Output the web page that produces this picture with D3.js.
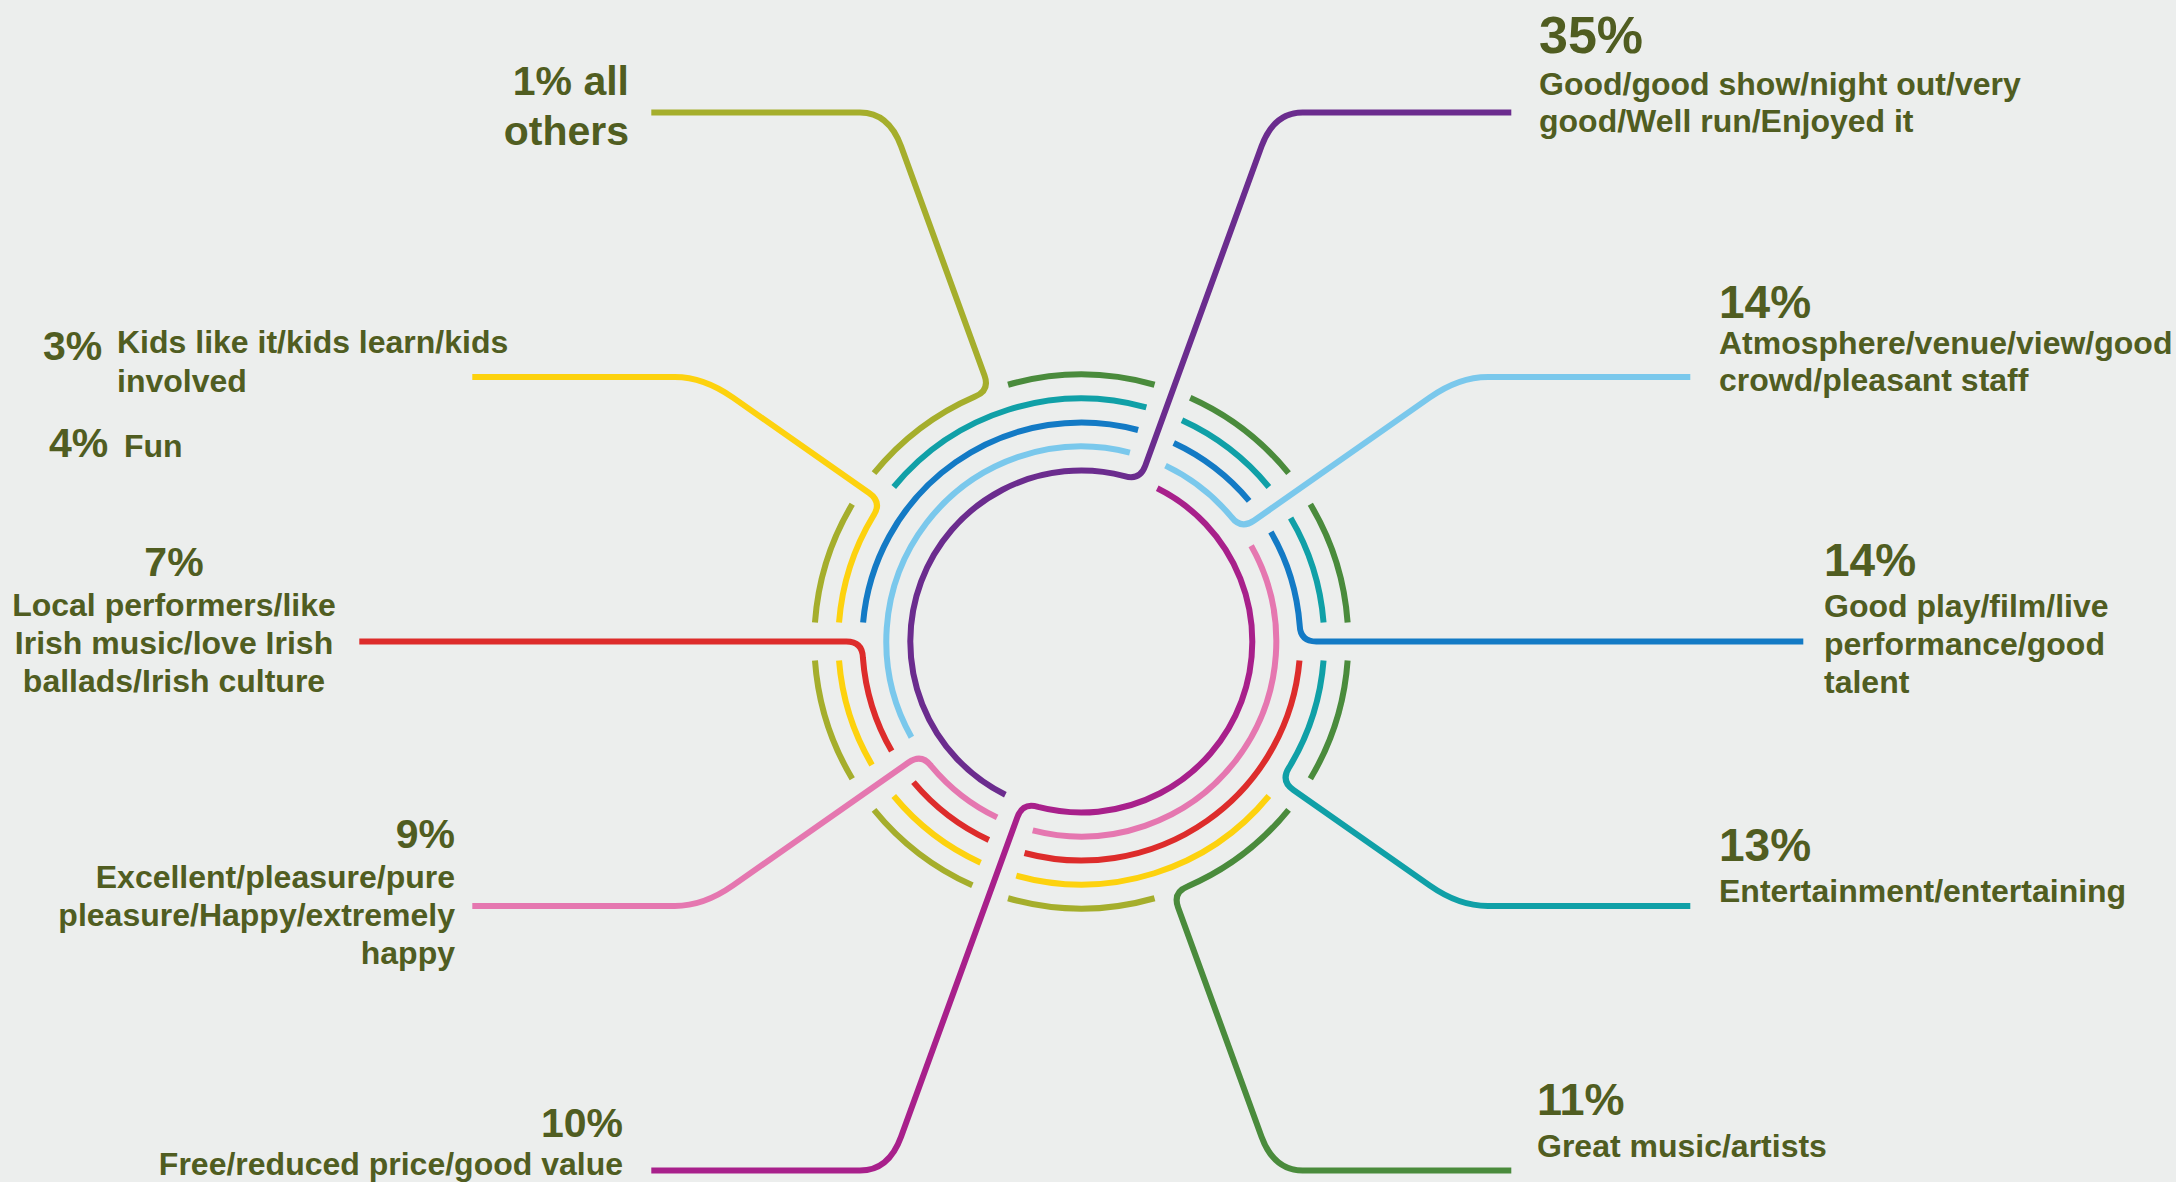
<!DOCTYPE html>
<html>
<head>
<meta charset="utf-8">
<script src="https://cdn.jsdelivr.net/npm/d3@7"></script>
<style>
  html, body { margin: 0; padding: 0; background: #eceeed; }
  svg { display: block; }
  text { font-family: "Liberation Sans", Arial, Helvetica, sans-serif; font-weight: bold; fill: #505d21; }
</style>
</head>
<body>
<svg id="chart" width="2176" height="1182"></svg>
<script>
// ---- data -------------------------------------------------------------
const categories = [
  "Good/good show/night out/very good/Well run/Enjoyed it",
  "Atmosphere/venue/view/good crowd/pleasant staff",
  "Good play/film/live performance/good talent",
  "Entertainment/entertaining",
  "Great music/artists",
  "Free/reduced price/good value",
  "Excellent/pleasure/pure pleasure/Happy/extremely happy",
  "Local performers/like Irish music/love Irish ballads/Irish culture",
  "Kids like it/kids learn/kids involved",
  "Fun",
  "all others"
];
const values = [35, 14, 14, 13, 11, 10, 9, 7, 3, 4, 1];

// label text as it is wrapped on the page
const labelLines = [
  ["Good/good show/night out/very", "good/Well run/Enjoyed it"],
  ["Atmosphere/venue/view/good", "crowd/pleasant staff"],
  ["Good play/film/live", "performance/good", "talent"],
  ["Entertainment/entertaining"],
  ["Great music/artists"],
  ["Free/reduced price/good value"],
  ["Excellent/pleasure/pure", "pleasure/Happy/extremely", "happy"],
  ["Local performers/like", "Irish music/love Irish", "ballads/Irish culture"],
  ["Kids like it/kids learn/kids", "involved"],
  ["Fun"],
  ["all", "others"]
];

// categories that have a line in the wheel, clockwise from the top right
const rightWheel = [0, 1, 2, 3, 4];
const leftWheel = [5, 6, 7, 8, 10];

// ---- styling / layout -------------------------------------------------
const colors = ["#6b2c8e", "#7ac8ec", "#137ac5", "#10a0a7", "#4a8b3c",
                "#a8208b", "#e577b0", "#dd2c2b", "#fdd20e", null, "#a5ae2c"];

const labelPos = [
  { x: 1539, anchor: "start",  pctY: 53,   pctSize: 52, textY: 95,   lh: 37 },
  { x: 1719, anchor: "start",  pctY: 318,  pctSize: 46, textY: 354,  lh: 37 },
  { x: 1824, anchor: "start",  pctY: 576,  pctSize: 46, textY: 617,  lh: 38 },
  { x: 1719, anchor: "start",  pctY: 861,  pctSize: 46, textY: 902,  lh: 38 },
  { x: 1537, anchor: "start",  pctY: 1115, pctSize: 45, textY: 1157, lh: 38 },
  { x: 623,  anchor: "end",    pctY: 1137, pctSize: 41, textY: 1175, lh: 38 },
  { x: 455,  anchor: "end",    pctY: 848,  pctSize: 41, textY: 888,  lh: 38 },
  { x: 174,  anchor: "middle", pctY: 576,  pctSize: 41, textY: 616,  lh: 38 },
  { x: 43,   anchor: "start",  pctY: 360,  pctSize: 41, textX: 117, textY: 353, lh: 39, inline: true },
  { x: 49,   anchor: "start",  pctY: 457,  pctSize: 41, textX: 124, textY: 457, lh: 38, inline: true },
  { x: 629,  anchor: "end",    pctY: 95,   pctSize: 41, textY: 145,  lh: 50, big: true }
];

const W = 2176, H = 1182;
const cx = 1081.3, cy = 641.5;
const lineWidth = 6;
const gapPx = 19;      // clearance where a line crosses a ring
const fillet = 16;     // bend from ring into spoke
const bend = 36;       // bend from spoke into the horizontal run
const reach = [430, 609, 722, 609, 430];   // horizontal run end, per level

// ---- scales ------------------------------------------------------------
const ring = d3.scalePoint().domain(d3.range(5)).range([171, 267]);
const angleRight = d3.scalePoint().domain(d3.range(5)).range([20, 160]);
const angleLeft = d3.scalePoint().domain(d3.range(5)).range([200, 340]);
const level = d3.scalePoint().domain(d3.range(5)).range([112.5, 1170.5]);

const rad = d => d * Math.PI / 180;
const deg = r => r * 180 / Math.PI;
const pt = (r, a) => [cx + r * Math.sin(rad(a)), cy - r * Math.cos(rad(a))];

const spokes = [
  ...rightWheel.map((c, i) => ({ c, angle: angleRight(i), track: i, level: i, side: 1 })),
  ...leftWheel.map((c, j) => ({ c, angle: angleLeft(j), track: j, level: 4 - j, side: -1 }))
];

// break each ring arc where spokes from inner rings pass through it
const segments = [];
spokes.forEach(s => {
  const r = ring(s.track);
  const gd = deg(gapPx / r);
  const lo = s.angle - 180 + gd, hi = s.angle;
  const cuts = spokes.filter(m => m.track < s.track).map(m => {
    let a = m.angle;
    while (a < lo) a += 360;
    while (a >= lo + 360) a -= 360;
    return a;
  }).filter(a => a < hi).sort((a, b) => a - b);
  let start = lo;
  cuts.forEach(a => { segments.push({ s, r, a0: start, a1: a - gd, lead: false }); start = a + gd; });
  segments.push({ s, r, a0: start, a1: hi, lead: true });
});

function segmentPath(d) {
  const p = d3.path();
  const r = d.r, s = d.s;
  const start = pt(r, d.a0);
  p.moveTo(start[0], start[1]);
  if (!d.lead) {
    p.arc(cx, cy, r, rad(d.a0 - 90), rad(d.a1 - 90), false);
    return p.toString();
  }
  const fd = deg(fillet / r);
  p.arc(cx, cy, r, rad(d.a0 - 90), rad(d.a1 - fd - 90), false);
  const c1 = pt(r, s.angle), e1 = pt(r + fillet, s.angle);
  p.quadraticCurveTo(c1[0], c1[1], e1[0], e1[1]);
  const yL = level(s.level);
  const xEnd = cx + s.side * reach[s.level];
  const cosA = Math.cos(rad(s.angle));
  if (Math.abs(cosA) < 1e-6) {
    p.lineTo(xEnd, cy);
  } else {
    const rh = (cy - yL) / cosA;
    const b = pt(rh - bend, s.angle), corner = pt(rh, s.angle);
    p.lineTo(b[0], b[1]);
    p.quadraticCurveTo(corner[0], corner[1], corner[0] + s.side * bend * 0.8, yL);
    p.lineTo(xEnd, yL);
  }
  return p.toString();
}

const svg = d3.select("#chart").attr("viewBox", [0, 0, W, H]);
svg.append("rect").attr("width", W).attr("height", H).attr("fill", "#eceeed");

svg.append("g")
  .attr("fill", "none")
  .attr("stroke-width", lineWidth)
  .attr("stroke-linecap", "butt")
  .attr("stroke-linejoin", "round")
  .selectAll("path")
  .data(segments)
  .join("path")
  .attr("stroke", d => colors[d.s.c])
  .attr("d", segmentPath);

// ---- labels ------------------------------------------------------------
const labels = svg.append("g").selectAll("g")
  .data(categories.map((name, i) => ({ i, name, value: values[i], lines: labelLines[i], pos: labelPos[i] })))
  .join("g");

labels.each(function (d) {
  const g = d3.select(this);
  const p = d.pos;
  const pct = d.value + "%";
  if (p.big) {
    g.append("text").attr("x", p.x).attr("y", p.pctY).attr("text-anchor", p.anchor)
      .style("font-size", p.pctSize + "px").text(pct + " " + d.lines[0]);
    d.lines.slice(1).forEach((ln, k) => {
      g.append("text").attr("x", p.x).attr("y", p.textY + k * p.lh).attr("text-anchor", p.anchor)
        .style("font-size", p.pctSize + "px").text(ln);
    });
    return;
  }
  g.append("text").attr("x", p.x).attr("y", p.pctY).attr("text-anchor", p.anchor)
    .style("font-size", p.pctSize + "px").text(pct);
  const tx = p.inline ? p.textX : p.x;
  d.lines.forEach((ln, k) => {
    g.append("text").attr("x", tx).attr("y", p.textY + k * p.lh)
      .attr("text-anchor", p.inline ? "start" : p.anchor)
      .style("font-size", "32px").text(ln);
  });
});
</script>
</body>
</html>
